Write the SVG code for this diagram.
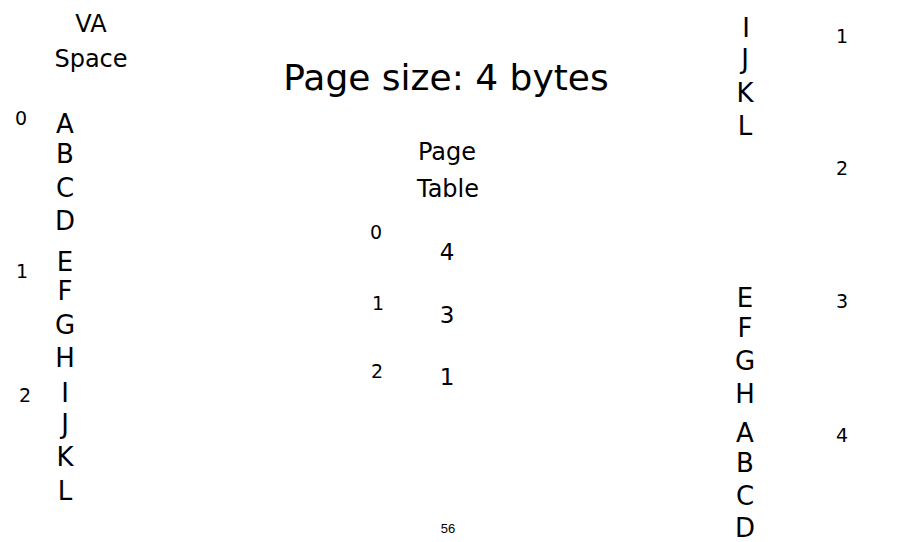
<svg xmlns="http://www.w3.org/2000/svg" width="913" height="542" viewBox="0 0 913 542">
<style>
text{font-family:"DejaVu Sans","Noto Sans",sans-serif;fill:#000;text-anchor:middle}
.l{font-size:26px}
.n{font-size:19px}
.v{font-size:23px}
.h{font-size:24px}
.t{font-size:36px}
.p{font-family:"Liberation Sans",sans-serif;font-size:13px}
</style>
<rect width="913" height="542" fill="#fff"/>
<g id="va-space">
<text class="h" x="91" y="32">VA</text>
<text class="h" x="91" y="67">Space</text>
<text class="n" x="21" y="125">0</text>
<text class="n" x="22" y="278">1</text>
<text class="n" x="25" y="402">2</text>
<text class="l" x="65" y="133">A</text>
<text class="l" x="65" y="163">B</text>
<text class="l" x="65" y="197">C</text>
<text class="l" x="65" y="230">D</text>
<text class="l" x="65" y="271">E</text>
<text class="l" x="65" y="300">F</text>
<text class="l" x="65" y="334">G</text>
<text class="l" x="65" y="367">H</text>
<text class="l" x="65" y="402">I</text>
<text class="l" x="65" y="433">J</text>
<text class="l" x="65" y="466">K</text>
<text class="l" x="65" y="500">L</text>
</g>
<g id="title">
<text class="t" x="446" y="90">Page size: 4 bytes</text>
</g>
<g id="page-table">
<text class="h" x="447" y="160">Page</text>
<text class="h" x="448" y="197">Table</text>
<text class="n" x="376" y="239">0</text>
<text class="n" x="378" y="310">1</text>
<text class="n" x="377" y="378">2</text>
<text class="v" x="447" y="260">4</text>
<text class="v" x="447" y="323">3</text>
<text class="v" x="447" y="385">1</text>
</g>
<g id="physical-memory">
<text class="l" x="746" y="37">I</text>
<text class="l" x="745" y="68">J</text>
<text class="l" x="745" y="102">K</text>
<text class="l" x="745" y="135">L</text>
<text class="l" x="745" y="307">E</text>
<text class="l" x="745" y="337">F</text>
<text class="l" x="745" y="370">G</text>
<text class="l" x="745" y="403">H</text>
<text class="l" x="745" y="442">A</text>
<text class="l" x="745" y="472">B</text>
<text class="l" x="745" y="505">C</text>
<text class="l" x="745" y="537">D</text>
<text class="n" x="842" y="43">1</text>
<text class="n" x="842" y="175">2</text>
<text class="n" x="842" y="308">3</text>
<text class="n" x="842" y="442">4</text>
</g>
<g id="page-number">
<text class="p" x="448" y="533">56</text>
</g>
</svg>
